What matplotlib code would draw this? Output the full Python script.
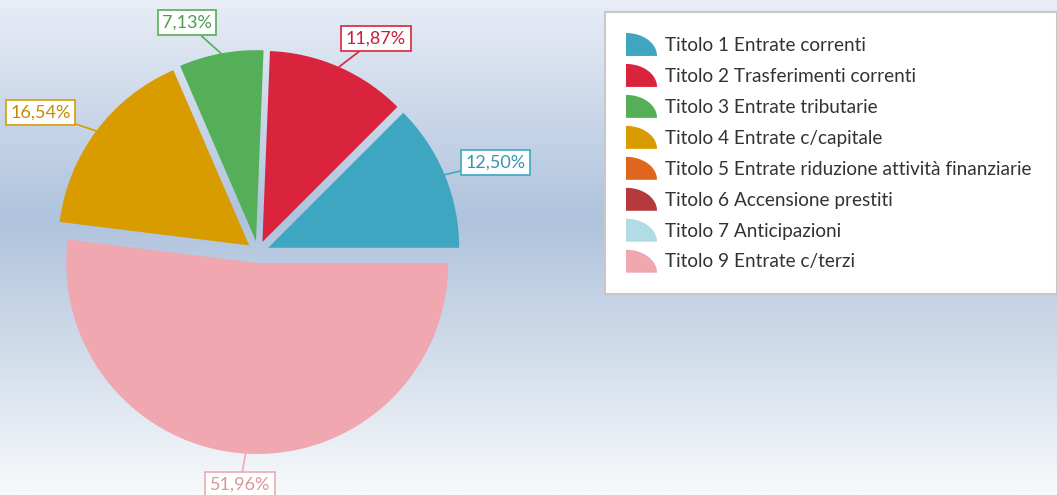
import numpy as np
import matplotlib
matplotlib.use("Agg")
import matplotlib.pyplot as plt
from matplotlib.colors import LinearSegmentedColormap, to_rgb
from matplotlib.legend_handler import HandlerPatch
from matplotlib.patches import Polygon, Rectangle, Wedge

plt.rcParams['font.family'] = ['Lato', 'DejaVu Sans']

# data
categories = [
    'Titolo 1 Entrate correnti',
    'Titolo 2 Trasferimenti correnti',
    'Titolo 3 Entrate tributarie',
    'Titolo 4 Entrate c/capitale',
    'Titolo 5 Entrate riduzione attività finanziarie',
    'Titolo 6 Accensione prestiti',
    'Titolo 7 Anticipazioni',
    'Titolo 9 Entrate c/terzi',
]
percentages = [12.50, 11.87, 7.13, 16.54, 0.0, 0.0, 0.0, 51.96]
colors = ['#3ea6c1', '#da243e', '#55ae58', '#d99c00',
          '#e0651f', '#b5393a', '#b1dce5', '#f0a7b0']


# quarter-ellipse legend icons
class QuarterHandler(HandlerPatch):
    def create_artists(self, legend, orig_handle, xdescent, ydescent,
                       width, height, fontsize, trans):
        t = np.linspace(0, np.pi / 2, 40)
        x0, y0 = -xdescent, -ydescent
        pts = [(x0, y0)] + [(x0 + width * np.cos(a), y0 + height * np.sin(a)) for a in t]
        p = Polygon(pts, closed=True, facecolor=orig_handle.get_facecolor(),
                    edgecolor='none', transform=trans)
        return [p]


W, H = 1057, 495
fig = plt.figure(figsize=(W / 100, H / 100), dpi=100)

# background gradient
bg = fig.add_axes([0, 0, 1, 1], zorder=0)
cmap = LinearSegmentedColormap.from_list(
    'bg', [(0.0, '#e8edf6'), (0.44, '#afc3dd'), (0.75, '#d6e0ec'), (1.0, '#f8fafc')])
bg.imshow(np.linspace(0, 1, 256).reshape(-1, 1), aspect='auto', cmap=cmap,
          extent=[0, 1, 0, 1])
bg.axis('off')

ax = fig.add_axes([0, 0, 1, 1], zorder=1)
ax.patch.set_alpha(0)

cx, cy, r = 258, H - 252, 191
off = 11  # explode distance
wedges, _ = ax.pie(percentages, colors=colors, startangle=0, counterclock=True,
                   explode=[off] * len(percentages), center=(cx, cy), radius=r,
                   wedgeprops=dict(linewidth=0))
ax.set_xlim(0, W)
ax.set_ylim(0, H)
ax.set_aspect('equal')
ax.axis('off')

# percentage labels
for w, v, c in zip(wedges, percentages, colors):
    if v <= 0:
        continue
    ang = np.deg2rad((w.theta1 + w.theta2) / 2)
    ca, sa = np.cos(ang), np.sin(ang)
    ox, oy = w.center
    px, py = ox + r * ca, oy + r * sa
    tx, ty = cx - 4 + 1.2 * r * ca, cy + 1.22 * r * sa
    if abs(ca) < 0.1:
        ha = 'center'
    else:
        ha = 'left' if ca > 0 else 'right'
    txtc = tuple(np.array(to_rgb(c)) * 0.9)
    ax.annotate(f'{v:.2f}%'.replace('.', ','), xy=(px, py), xytext=(tx, ty),
                ha=ha, va='center', fontsize=13, color=txtc,
                bbox=dict(boxstyle='square,pad=0.25', facecolor='white',
                          edgecolor=c, linewidth=1.2),
                arrowprops=dict(arrowstyle='-', color=c, linewidth=1.2,
                                shrinkA=0, shrinkB=0))

# legend frame
fig.patches.append(Rectangle((605 / W, 1 - 294 / H), 452 / W, 282 / H,
                             transform=fig.transFigure, facecolor='white',
                             edgecolor='#c8c8c8', linewidth=1.5, zorder=2))
leg = fig.legend(wedges, categories, loc='upper left',
                 bbox_to_anchor=(626 / W, 1 - 33 / H), frameon=False,
                 fontsize=13.7, handlelength=1.63, handleheight=1.48,
                 handletextpad=0.42, labelspacing=0.42, borderpad=0,
                 borderaxespad=0, labelcolor='#333333',
                 handler_map={Wedge: QuarterHandler()})
leg.set_zorder(3)

fig.savefig('out.png', dpi=100)
